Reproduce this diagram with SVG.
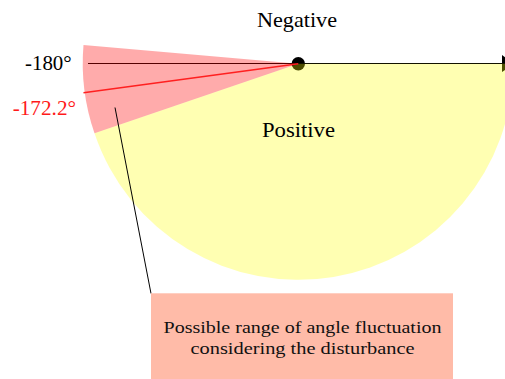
<svg xmlns="http://www.w3.org/2000/svg" width="505" height="379" viewBox="0 0 505 379">
<style>
.lbl{font-family:"Liberation Serif","Times New Roman",serif;font-size:21px;fill:#000}
.box{font-family:"Liberation Serif","Times New Roman",serif;font-size:16px;fill:#111}
</style>
<rect width="505" height="379" fill="#fff"/>
<g id="axis">
<line x1="88" y1="63.5" x2="503" y2="63.5" stroke="#000" stroke-width="1.2"/>
<circle cx="298.3" cy="63.8" r="6.7" fill="#000"/>
<path d="M502,55 L514,63.5 L502,72 Z" fill="#000"/>
</g>
<g id="positive-region">
<path d="M298.3,63.8 L513.3,63.8 A215,215 0 0 1 94.5,133.3 Z" fill="#ffff00" fill-opacity="0.3"/>
</g>
<g id="fluctuation-wedge">
<path d="M298.3,63.8 L94.5,133.3 A215,215 0 0 1 83.5,45 Z" fill="#ff0000" fill-opacity="0.33"/>
</g>
<g id="connectors">
<line x1="298.3" y1="63.8" x2="83.5" y2="92.8" stroke="#ff2020" stroke-width="1.6"/>
<line x1="115" y1="107.5" x2="151" y2="293.5" stroke="#000" stroke-width="1"/>
</g>
<g id="labels">
<text class="lbl" x="297" y="26.5" text-anchor="middle" textLength="80" lengthAdjust="spacingAndGlyphs">Negative</text>
<text class="lbl" x="298.5" y="136.7" text-anchor="middle" textLength="73" lengthAdjust="spacingAndGlyphs">Positive</text>
<text class="lbl" x="71.7" y="70" text-anchor="end" textLength="46.7" lengthAdjust="spacingAndGlyphs">-180°</text>
<text class="lbl" x="76" y="115" text-anchor="end" textLength="63.3" lengthAdjust="spacingAndGlyphs" style="fill:#ff1a1a">-172.2°</text>
</g>
<g id="note">
<rect x="151" y="293.3" width="302" height="85.7" fill="#ffbba8"/>
<text class="box" x="302.5" y="332.7" text-anchor="middle" textLength="278" lengthAdjust="spacingAndGlyphs">Possible range of angle fluctuation</text>
<text class="box" x="302.5" y="354.3" text-anchor="middle" textLength="224" lengthAdjust="spacingAndGlyphs">considering the disturbance</text>
</g>
</svg>
